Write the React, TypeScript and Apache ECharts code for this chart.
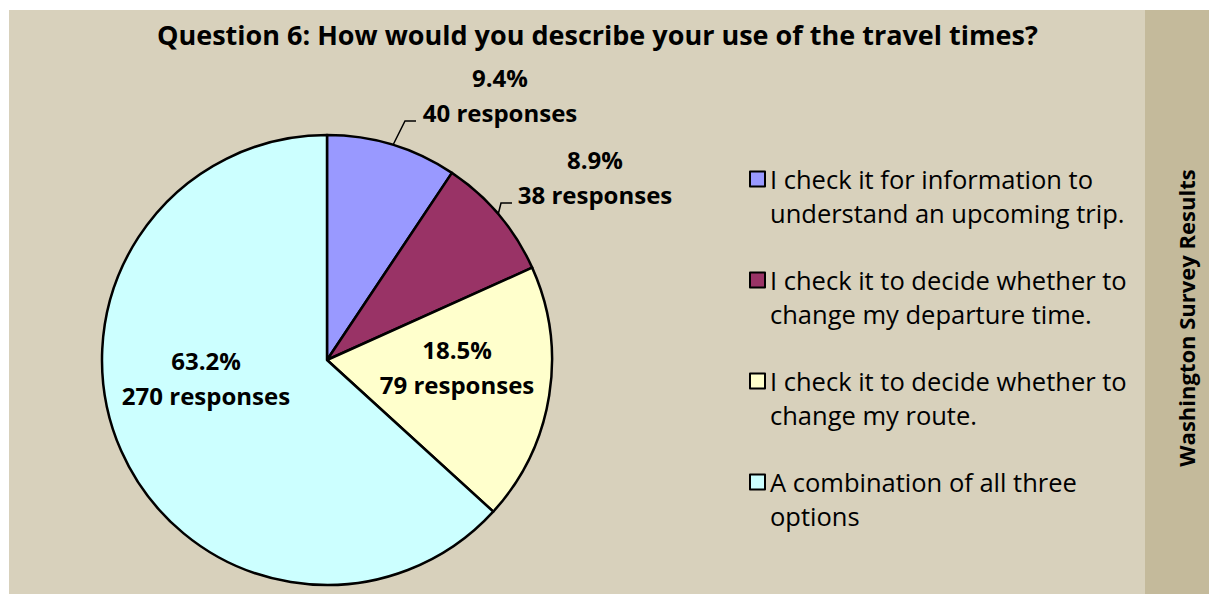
import React, { useEffect, useRef } from 'react';
import * as echarts from 'echarts';

const categories = [
  'I check it for information to\nunderstand an upcoming trip.',
  'I check it to decide whether to\nchange my departure time.',
  'I check it to decide whether to\nchange my route.',
  'A combination of all three\noptions',
];
const responses = [40, 38, 79, 270];
const sliceColors = ['#9999ff', '#993366', '#ffffcc', '#ccffff'];
const titleText = 'Question 6: How would you describe your use of the travel times?';
const sideText = 'Washington Survey Results';

// label block centres and leader line points (layout only)
const labelCenters = [
  [500, 95],
  [595, 177],
  [457, 367],
  [206, 378],
];
const leaderLines: (number[][] | null)[] = [
  [[393, 145], [405, 121], [416, 121]],
  [[498, 215], [501, 203], [512, 203]],
  null,
  null,
];

const FONT = '"Open Sans", Lato, sans-serif';

export default function App() {
  const ref = useRef<HTMLDivElement>(null);
  useEffect(() => {
    document.body.style.margin = '0';
    if (!ref.current) return;
    const chart = echarts.init(ref.current, undefined, { renderer: 'svg' });
    const data = categories.map((name, i) => ({
      name,
      value: responses[i],
      itemStyle: { color: sliceColors[i] },
      label: { position: i < 2 ? 'outside' : 'inside' },
      labelLine: { show: i < 2 },
    }));
    chart.setOption({
      animation: false,
      backgroundColor: '#ffffff',
      title: {
        text: titleText,
        left: 157,
        top: 21,
        padding: 0,
        textStyle: { fontFamily: FONT, fontWeight: 'bold', fontSize: 27, color: '#000' },
      },
      graphic: [
        { type: 'rect', z: -10, shape: { x: 9, y: 10, width: 1136, height: 584 }, style: { fill: '#d8d1bc' } },
        { type: 'rect', z: -10, shape: { x: 1145, y: 10, width: 64, height: 584 }, style: { fill: '#c4ba9b' } },
        {
          type: 'text',
          x: 1186,
          y: 318,
          rotation: Math.PI / 2,
          style: {
            text: sideText,
            fill: '#000',
            font: `bold 22px ${FONT}`,
            align: 'center',
            verticalAlign: 'middle',
          },
        },
      ],
      legend: {
        orient: 'vertical',
        left: 744,
        top: 123,
        height: 460,
        itemWidth: 15,
        itemHeight: 15,
        itemGap: -1,
        icon: 'rect',
        itemStyle: { borderColor: '#000', borderWidth: 2 },
        formatter: (name: string) => '\n' + name,
        textStyle: {
          fontFamily: FONT,
          fontSize: 25.5,
          color: '#000',
          lineHeight: 34,
        },
        data: categories,
      },
      series: [
        {
          type: 'pie',
          center: [327, 360],
          radius: 225,
          startAngle: 90,
          clockwise: true,
          percentPrecision: 1,
          avoidLabelOverlap: false,
          itemStyle: { borderColor: '#000', borderWidth: 2.5 },
          label: {
            formatter: '{d}%\n{c} responses',
            fontFamily: FONT,
            fontWeight: 'bold',
            fontSize: 24,
            lineHeight: 35,
            color: '#000',
            align: 'center',
          },
          labelLine: { lineStyle: { color: '#000', width: 1.5 } },
          labelLayout: (p: any) => {
            const i = p.dataIndex;
            const res: any = {
              x: labelCenters[i][0],
              y: labelCenters[i][1],
              align: 'center',
              verticalAlign: 'middle',
            };
            if (leaderLines[i]) res.labelLinePoints = leaderLines[i];
            return res;
          },
          emphasis: { disabled: true },
          data,
        },
      ],
    });
    return () => chart.dispose();
  }, []);
  return <div ref={ref} style={{ width: 1209, height: 594 }} />;
}
